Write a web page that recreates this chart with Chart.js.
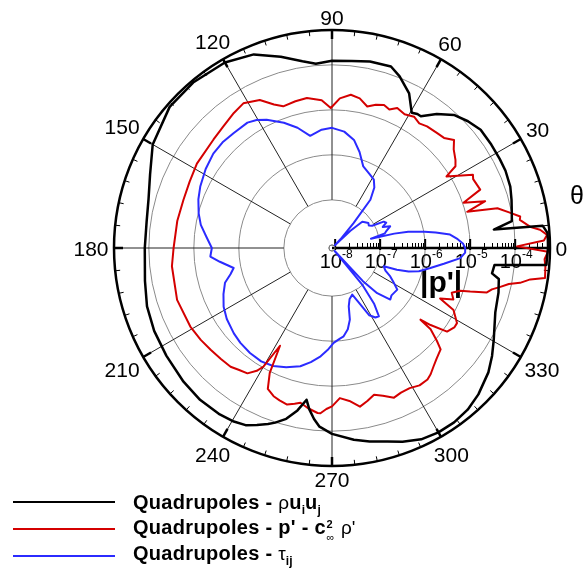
<!DOCTYPE html>
<html>
<head>
<meta charset="utf-8">
<script src="https://cdn.jsdelivr.net/npm/chart.js@4.4.1/dist/chart.umd.min.js"></script>
<style>
  body { margin: 0; background: #fff; }
  #wrap { position: relative; width: 583px; height: 575px; }
  canvas { position: absolute; left: 0; top: 0; }
  .swatch { position: absolute; left: 13px; width: 102px; height: 2px; }
  .txt { position: absolute; left: 133px; font: bold 20px "Liberation Sans", Arial, sans-serif;
         letter-spacing: 0.3px; line-height: 20px; white-space: nowrap; color: #000; }
  .g { font-weight: normal; font-size: 19px; letter-spacing: 0; }
  .sub { position: relative; top: 5px; font-size: 12px; letter-spacing: 0; }
  .c2 { position: relative; padding-right: 9px; }
  .c2 .sp, .c2 .sb { position: absolute; left: 12px; font-size: 11px; letter-spacing: 0; }
  .c2 .sp { top: -2px; }
  .c2 .sb { top: 11px; font-weight: normal; }
</style>
</head>
<body>
<div id="wrap">
  <canvas id="polar" width="583" height="575"></canvas>
  <div class="swatch" style="top:501px;background:#000"></div>
  <div class="txt" style="top:492px">Quadrupoles - <span class="g">ρ</span>u<span class="sub">i</span>u<span class="sub">j</span></div>
  <div class="swatch" style="top:528px;background:#d40000"></div>
  <div class="txt" style="top:517px">Quadrupoles - p' - <span class="c2">c<span class="sp">2</span><span class="sb">∞</span></span> <span class="g">ρ'</span></div>
  <div class="swatch" style="top:555px;background:#2b2bff"></div>
  <div class="txt" style="top:543px">Quadrupoles - <span class="g">τ</span><span class="sub">ij</span></div>
</div>
<script>
// angles in degrees (0 = right, counter-clockwise), values are log10 |p'|
const blackAngles = [0, 2, 4, 5.8, 6.5, 8.4, 11, 15, 19, 24, 28, 33, 38.6, 43, 47.6, 52, 56, 57.6, 59.3, 63.7,
  68.3, 72.2, 78.4, 84, 90, 95, 99, 105, 112, 120, 130, 139, 150, 158, 165, 172, 180, 190, 197.5, 205,
  213, 222, 229, 236, 240.4, 244, 247, 250, 252, 255, 258, 260.5, 262, 264, 266, 270, 276.4, 281, 286, 290,
  295, 300, 305, 310, 315, 321.4, 326, 330.4, 338.5, 345, 349.5, 350.8, 353.8, 355.3, 357];
const blackLogP = [-3.27, -3.27, -3.27, -3.36, -4.45, -4.03, -4.00, -3.94, -3.88, -3.85, -3.85, -3.85, -3.85, -3.94, -4.06, -4.29, -4.54, -4.54, -4.58, -4.23,
  -3.97, -3.83, -3.84, -3.89, -3.91, -3.96, -3.87, -3.67, -3.43, -3.31, -3.27, -3.29, -3.47, -3.71, -3.85, -3.91, -3.91, -3.85, -3.76, -3.71,
  -3.68, -3.63, -3.60, -3.61, -3.64, -3.69, -3.80, -3.91, -3.99, -4.14, -4.38, -4.65, -4.45, -4.25, -4.09, -3.94, -3.78, -3.69, -3.60, -3.49,
  -3.38, -3.34, -3.34, -3.38, -3.47, -3.63, -3.78, -3.94, -4.17, -4.24, -4.30, -4.47, -4.44, -3.29, -3.29];

const redAngles = [0.5, 1.8, 3.5, 5, 6.2, 8.5, 9.5, 11.5, 13.5, 15, 17, 19, 21.5, 25.8, 27.4, 31.9, 33.5, 35.6, 38.9, 41.7,
  44.5, 47.6, 52, 55, 58.2, 61.5, 65.1, 67.5, 70.2, 73, 76.1, 79.5, 83.2, 87, 90.5, 94, 99.5, 104, 108.8, 112,
  115.8, 121.4, 126, 132, 137.5, 147.8, 155, 162, 170, 180, 186.6, 198.4, 208.9, 215, 219.9, 225, 229.3, 232.5, 235.8, 238.5,
  240, 242.1, 243.7, 245.5, 248.5, 251, 254, 256.5, 258.4, 261.5, 264.8, 266, 268, 270, 273.2, 276.5, 280.1, 283, 285.8, 289,
  292.3, 295.5, 299.2, 302.5, 305.8, 308, 310.6, 313.5, 316.8, 318.5, 320.3, 321, 322, 324.1, 327, 329, 333.1, 335.2, 337.2, 339.7,
  341.6, 342.5, 344, 345.5, 346.8, 348.5, 349.6, 351.1, 352.2, 355, 357, 359];
const redLogP = [-3.96, -3.36, -3.28, -3.43, -3.63, -3.85, -3.83, -4.07, -4.29, -4.96, -4.51, -4.98, -4.53, -4.58, -4.54, -5.07, -4.78, -4.70, -4.59, -4.45,
  -4.58, -4.61, -4.64, -4.69, -4.63, -4.69, -4.64, -4.74, -4.69, -4.74, -4.83, -4.69, -4.64, -4.74, -4.96, -4.78, -4.69, -4.71, -4.74, -4.63,
  -4.41, -4.30, -4.36, -4.45, -4.50, -4.53, -4.58, -4.60, -4.58, -4.55, -4.49, -4.44, -4.47, -4.51, -4.55, -4.58, -4.60, -4.66, -4.71, -4.87,
  -5.03, -5.61, -4.97, -4.63, -4.53, -4.49, -4.45, -4.51, -4.56, -4.47, -4.39, -4.39, -4.49, -4.55, -4.73, -4.65, -4.49, -4.58, -4.68, -4.60,
  -4.47, -4.51, -4.51, -4.45, -4.46, -4.51, -4.60, -4.69, -4.77, -4.96, -5.23, -5.54, -5.29, -4.91, -4.83, -4.83, -5.04, -5.42, -5.14, -5.23,
  -5.07, -4.85, -4.49, -4.40, -4.23, -4.06, -3.82, -3.61, -3.29, -3.31, -3.34, -3.27];

const blueAngles = [0, 2, 4, 6.4, 8.5, 10.2, 12, 13, 13.5, 15.5, 17.5, 20.5, 22.5, 25, 27, 29, 31.5, 34.5, 38, 41,
  43, 44.5, 46, 49.2, 51.6, 55, 58.7, 63, 68.8, 74, 78.7, 84, 90, 95, 100.9, 106, 111.2, 116.9, 120.3, 124.2,
  130.6, 136, 141.3, 148, 154.9, 160, 165.3, 170, 175, 180, 183.9, 187, 191.5, 194.5, 198.2, 203, 208.3, 214, 220.8, 226,
  232.1, 238, 243.7, 249, 255, 259.5, 263.8, 267.5, 271, 275, 277.5, 281, 284, 286, 289, 293.5, 296, 299, 302, 304.5,
  307, 309.5, 312, 313, 315, 318.4, 321.5, 327.3, 331, 334, 337, 340.4, 341.5, 343, 345, 348.5, 352, 355.5, 358];
const blueLogP = [-5.11, -5.16, -5.27, -5.43, -5.74, -5.98, -6.34, -6.65, -7.18, -6.85, -6.80, -6.69, -6.85, -6.74, -6.78, -7.05, -7.11, -7.09, -7.14, -7.18,
  -7.51, -7.98, -7.80, -7.34, -6.70, -6.43, -6.29, -6.23, -6.13, -5.85, -5.62, -5.47, -5.40, -5.43, -5.53, -5.29, -5.09, -4.87, -4.77, -4.71,
  -4.71, -4.69, -4.70, -4.76, -4.84, -4.91, -5.01, -5.11, -5.27, -5.40, -5.36, -5.56, -5.84, -5.74, -5.57, -5.45, -5.33, -5.25, -5.18, -5.14,
  -5.11, -5.10, -5.14, -5.23, -5.35, -5.49, -5.65, -5.80, -5.96, -6.05, -6.09, -6.23, -6.43, -6.72, -6.87, -6.94, -6.74, -6.36, -6.25, -6.23,
  -6.51, -7.00, -7.98, -7.07, -6.65, -6.34, -6.38, -6.35, -6.51, -6.63, -6.78, -6.85, -6.55, -6.29, -6.07, -5.84, -5.56, -5.21, -5.11];

const seriesNames = ["Quadrupoles - ρuiuj", "Quadrupoles - p' - c∞² ρ'", "Quadrupoles - τij"];
const seriesColors = ["#000000", "#d40000", "#2b2bff"];

// axis: log10 |p'| from centre to rim, decade ticks along the 0 deg ray
const R_MIN = -8.07;
const R_MAX = -3.226;
const decadeTicks = [-8, -7, -6, -5, -4];
const angleTicks = [0, 30, 60, 90, 120, 150, 180, 210, 240, 270, 300, 330];

// radar needs one label per slot; slots every 0.5 deg going clockwise from 0
const STEP = 0.5;
const N = 360 / STEP;
const slotLabels = [];
for (let i = 0; i < N; i++) slotLabels.push(String((360 - i * STEP) % 360));

function toSlots(angles, vals) {
  const out = new Array(N).fill(null);
  angles.forEach((a, k) => {
    const i = Math.round(((360 - a) % 360) / STEP) % N;
    out[i] = vals[k];
  });
  return out;
}

const FONT = '"Liberation Sans", Arial, sans-serif';

const polarDecor = {
  id: 'polarDecor',
  beforeDatasetsDraw(chart) {
    const s = chart.scales.r;
    const ctx = chart.ctx;
    const cx = s.xCenter, cy = s.yCenter;
    const R = s.getDistanceFromCenterForValue(R_MAX);
    const rIn = s.getDistanceFromCenterForValue(-7);
    const pt = (deg, r) => [cx + r * Math.cos(deg * Math.PI / 180), cy - r * Math.sin(deg * Math.PI / 180)];
    ctx.save();

    // spokes
    ctx.strokeStyle = '#222';
    ctx.lineWidth = 1;
    angleTicks.forEach(a => {
      if (a === 0) return;
      const p0 = pt(a, rIn), p1 = pt(a, R);
      ctx.beginPath(); ctx.moveTo(p0[0], p0[1]); ctx.lineTo(p1[0], p1[1]); ctx.stroke();
    });

    // outer rim
    ctx.strokeStyle = '#000';
    ctx.lineWidth = 2.5;
    ctx.beginPath(); ctx.arc(cx, cy, R, 0, Math.PI * 2); ctx.stroke();

    // rim ticks: minor every 6 deg, major every 30 deg
    for (let a = 0; a < 360; a += 6) {
      const major = a % 30 === 0;
      if (a === 0) continue;
      const len = major ? 9 : 5;
      ctx.lineWidth = major ? 2.5 : 1;
      const p0 = pt(a, R), p1 = pt(a, R - len);
      ctx.beginPath(); ctx.moveTo(p0[0], p0[1]); ctx.lineTo(p1[0], p1[1]); ctx.stroke();
    }

    // radial ruler along 0 deg
    ctx.lineWidth = 2.5;
    ctx.beginPath(); ctx.moveTo(cx, cy); ctx.lineTo(cx + R, cy); ctx.stroke();
    ctx.lineWidth = 2;
    decadeTicks.forEach(d => {
      const x = cx + s.getDistanceFromCenterForValue(d);
      ctx.beginPath(); ctx.moveTo(x, cy - 9); ctx.lineTo(x, cy + 2); ctx.stroke();
    });
    ctx.lineWidth = 1;
    decadeTicks.forEach(d => {
      for (let k = 2; k <= 9; k++) {
        const v = d + Math.log10(k);
        if (v > R_MAX) break;
        const x = Math.round(cx + s.getDistanceFromCenterForValue(v)) + 0.5;
        ctx.beginPath(); ctx.moveTo(x, cy - 5); ctx.lineTo(x, cy); ctx.stroke();
      }
    });

    // small circle at the origin
    ctx.strokeStyle = '#777';
    ctx.beginPath(); ctx.arc(cx, cy, 3, 0, Math.PI * 2); ctx.stroke();

    // decade labels under the ruler
    ctx.fillStyle = '#000';
    ctx.textBaseline = 'alphabetic';
    ctx.textAlign = 'left';
    decadeTicks.forEach(d => {
      const x = cx + s.getDistanceFromCenterForValue(d);
      ctx.font = '20px ' + FONT;
      const w1 = ctx.measureText('10').width;
      ctx.font = '12px ' + FONT;
      const sup = String(d);
      const w2 = ctx.measureText(sup).width;
      const x0 = x - (w1 + w2) / 2 + 1;
      ctx.font = '20px ' + FONT;
      ctx.fillText('10', x0, cy + 20);
      ctx.font = '12px ' + FONT;
      ctx.fillText(sup, x0 + w1, cy + 10);
    });

    // angle labels around the rim
    ctx.font = '21px ' + FONT;
    ctx.textAlign = 'center';
    angleTicks.forEach(a => {
      const txt = String(a);
      const w = ctx.measureText(txt).width;
      const h = 15;
      const t = a * Math.PI / 180;
      const dist = R + 5.5 + Math.abs(Math.cos(t)) * w / 2 + Math.abs(Math.sin(t)) * h / 2;
      const p = pt(a, dist);
      ctx.fillText(txt, p[0], p[1] + 7.5);
    });

    // axis titles
    ctx.font = '25px ' + FONT;
    ctx.fillText('θ', 577, 204);
    ctx.font = 'bold 30px ' + FONT;
    ctx.textAlign = 'left';
    ctx.fillText("|p'|", 420, 292);

    ctx.restore();
  }
};

new Chart(document.getElementById('polar'), {
  type: 'radar',
  data: {
    labels: slotLabels,
    datasets: [
      { label: seriesNames[0], data: toSlots(blackAngles, blackLogP), borderColor: seriesColors[0], borderWidth: 2.5 },
      { label: seriesNames[1], data: toSlots(redAngles, redLogP), borderColor: seriesColors[1], borderWidth: 2 },
      { label: seriesNames[2], data: toSlots(blueAngles, blueLogP), borderColor: seriesColors[2], borderWidth: 2 }
    ].map(ds => Object.assign(ds, { pointRadius: 0, fill: false, spanGaps: true, tension: 0 }))
  },
  options: {
    responsive: false,
    animation: false,
    devicePixelRatio: 1,
    layout: { padding: { left: 114, right: 33, top: 30, bottom: 109 } },
    plugins: { legend: { display: false }, tooltip: { enabled: false } },
    elements: { line: { borderJoinStyle: 'round' } },
    scales: {
      r: {
        min: R_MIN,
        max: R_MAX,
        startAngle: 90,
        afterBuildTicks: sc => { sc.ticks = decadeTicks.map(v => ({ value: v })); },
        ticks: { display: false },
        grid: { circular: true, color: '#8a8a8a', lineWidth: 1 },
        angleLines: { display: false },
        pointLabels: { display: false }
      }
    }
  },
  plugins: [polarDecor]
});
</script>
</body>
</html>
